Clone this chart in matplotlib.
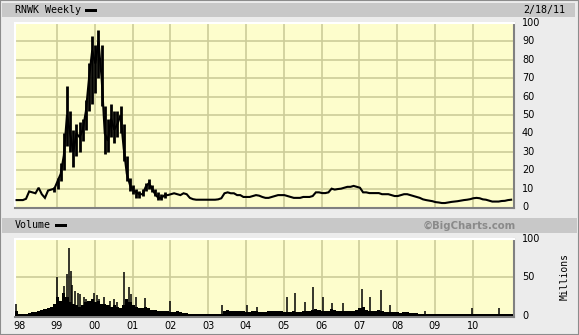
import matplotlib
matplotlib.use("Agg")
import matplotlib.pyplot as plt
from matplotlib.patches import Rectangle
import numpy as np

# ---------------- data ----------------
start_year = 1997.89          # first weekly bar (IPO, Nov 1997)
end_year = 2011.09            # 2/18/11
# monthly closing price from the first month on
price = [3.8, 3.8, 3.8, 4.5, 8.5, 8, 7.5, 10.5, 7, 5, 9, 9.5,
         10, 14, 18, 28, 50, 40, 30, 40, 38, 42, 52, 70,
         85, 78, 90, 70, 40, 36, 48, 42, 45, 50, 32, 18,
         12, 9, 8, 7, 7, 11, 13, 10, 7, 5, 5, 6.5,
         6.5, 7, 7.5, 7, 6.5, 7.5, 7, 5, 4.3, 4, 4, 4,
         4, 4, 4, 4, 4.2, 4.8, 7.5, 8, 7.5, 7.5, 6.5, 6.5,
         5.5, 5.5, 5.5, 6, 6.5, 6.2, 5.5, 5, 5, 5.5, 6, 6.5,
         6.5, 6.5, 6, 5.5, 5, 5, 5, 5.5, 5.5, 5.5, 6, 8,
         8, 7.6, 7.6, 8, 10, 9.5, 9.8, 10, 10.5, 11, 11, 11.5,
         11, 10.5, 8, 8, 7.6, 7.6, 7.6, 7.6, 7, 7, 7, 6.5,
         6, 6, 6.5, 7, 7, 6.5, 6, 5.5, 5, 4.2, 3.8, 3.5,
         3.2, 2.7, 2.5, 2.2, 2.2, 2.5, 2.8, 3, 3.2, 3.5, 3.8, 4,
         4.3, 4.8, 5, 4.8, 4.2, 4, 3.5, 3, 3, 3, 3.3, 3.4,
         3.8, 4]
# monthly high / low during the volatile period (months 12..47)
range_start_month = 12
price_high = [11, 16, 24, 40, 66, 52, 42, 45, 46, 48, 58, 78,
              93, 88, 96, 88, 55, 48, 56, 52, 52, 55, 45, 28,
              16, 12, 10, 9, 10, 13, 15, 12, 10, 8, 7, 8]
price_low = [8, 10, 14, 20, 33, 30, 22, 28, 30, 36, 42, 52,
             56, 62, 70, 55, 29, 30, 38, 35, 38, 40, 25, 14,
             9, 7, 5, 5, 6, 9, 10, 8, 6, 4, 4, 5]

# monthly base volume (millions)
volume = [6, 3, 3, 3, 4, 5, 5, 6, 8, 9, 10, 12,
          15, 25, 20, 30, 25, 18, 15, 14, 12, 14, 18, 20,
          22, 18, 20, 15, 16, 14, 12, 14, 12, 10, 14, 22,
          18, 14, 12, 10, 10, 12, 10, 8, 8, 7, 6, 6,
          6, 5, 5, 6, 5, 4, 4, 3, 3, 3, 3, 3,
          3, 2.5, 2.5, 2.5, 2.5, 3, 7, 8, 7, 6, 6, 6,
          6, 5, 5, 6, 6, 5, 5, 5, 6, 6, 6, 7,
          6, 5, 5, 5, 6, 5, 5, 6, 6, 7, 8, 9,
          8, 7, 7, 6, 9, 8, 7, 7, 6, 7, 6, 6,
          8, 10, 12, 8, 7, 6, 7, 8, 6, 5, 5, 5,
          5, 5, 4, 5, 5, 4, 4, 4, 3, 3, 2.5, 2,
          2, 2, 2, 2, 2.5, 2, 2, 2, 2, 2.5, 2, 2,
          2, 2, 2, 2, 2.5, 2, 2, 2, 2, 2, 2, 2.5,
          2, 2]
# notable weekly volume spikes (decimal year, millions)
spike_dates = [1997.91, 1999.01, 1999.19, 1999.27, 1999.32, 1999.36, 1999.41,
               1999.49, 1999.55, 1999.62, 1999.72, 1999.78, 1999.98, 2000.05,
               2000.12, 2000.24, 2000.40, 2000.50, 2000.60, 2000.77, 2000.91,
               2000.95, 2001.10, 2001.33, 2001.99, 2003.37, 2004.03, 2004.29,
               2005.09, 2005.30, 2005.56, 2005.77, 2006.04, 2006.28, 2006.57,
               2007.07, 2007.28, 2007.57, 2007.81, 2008.74, 2009.98, 2010.69]
spike_values = [15, 50, 39, 55, 88, 58, 40,
                32, 30, 28, 25, 22, 30, 27,
                22, 25, 20, 22, 18, 57, 38,
                28, 25, 23, 20, 14, 14, 12,
                25, 30, 18, 38, 25, 17, 17,
                35, 25, 34, 14, 6, 10, 10]

year_labels = ["98", "99", "00", "01", "02", "03", "04", "05", "06", "07", "08", "09", "10"]
price_ticks = [0, 10, 20, 30, 40, 50, 60, 70, 80, 90, 100]
volume_ticks = [0, 50, 100]

# ---------------- style ----------------
BG = "#ececec"
BAND = "#c8c8c8"
PLOT_BG = "#fdfdcc"
GRID = "#cccc99"
W, H = 579, 335

fig = plt.figure(figsize=(W / 100, H / 100), dpi=100, facecolor=BG)

def fx(px):
    return px / W

def fy(py):
    return 1 - py / H

fig.patches.append(Rectangle((0, 0), 1, 1, transform=fig.transFigure, fill=False,
                             edgecolor="#8c8c8c", linewidth=1.5, zorder=0))
fig.patches.append(Rectangle((fx(2), fy(17)), fx(573), 14 / H, transform=fig.transFigure,
                             facecolor=BAND, edgecolor="none", zorder=0))
fig.patches.append(Rectangle((fx(2), fy(233)), fx(575), 15 / H, transform=fig.transFigure,
                             facecolor=BAND, edgecolor="none", zorder=0))

mono = "DejaVu Sans Mono"
fig.text(fx(15), fy(10), "RNWK Weekly", family=mono, fontsize=7.2, va="center", ha="left")
fig.patches.append(Rectangle((fx(85), fy(11.5)), fx(12), 3 / H, transform=fig.transFigure,
                             facecolor="black", edgecolor="none"))
fig.text(fx(565), fy(10), "2/18/11", family=mono, fontsize=7.2, va="center", ha="right")

fig.text(fx(15), fy(225.5), "Volume", family=mono, fontsize=7.2, va="center", ha="left")
fig.patches.append(Rectangle((fx(55), fy(227)), fx(12), 3 / H, transform=fig.transFigure,
                             facecolor="black", edgecolor="none"))
fig.text(fx(516), fy(225.5), "\u00a9BigCharts.com", family="DejaVu Sans", fontweight="bold",
         fontsize=7.3, color="#8a8a8a", va="center", ha="right")
fig.text(fx(565), fy(277), "Millions", family=mono, fontsize=7, rotation=90,
         va="center", ha="center")

ax = fig.add_axes([fx(15), fy(208), fx(499), 185 / H])
axv = fig.add_axes([fx(15), fy(317), fx(499), 78 / H])

for a in (ax, axv):
    a.set_facecolor(PLOT_BG)
    a.set_xlim(start_year, end_year)
    for yr in range(1999, 2011):
        a.axvline(yr, color=GRID, lw=1.2, zorder=1)
    a.tick_params(left=False, bottom=False, right=False, top=False,
                  labelleft=False, labelbottom=False)
    a.spines["top"].set_color("#ffffff")
    a.spines["left"].set_color("#ffffff")
    a.spines["bottom"].set_color("#808080")
    a.spines["right"].set_color("#808080")
    for s in a.spines.values():
        s.set_linewidth(1.5)

ax.set_ylim(-0.5, 100)
for v in price_ticks[1:-1]:
    ax.axhline(v, color=GRID, lw=1.2, zorder=1)
months = start_year + (np.arange(len(price)) + 0.5) / 12
ax.plot(months, price, color="black", lw=1.5, zorder=3, solid_joinstyle="miter")
rm = start_year + (np.arange(len(price_high)) + range_start_month + 0.5) / 12
ax.vlines(rm, price_low, price_high, color="black", lw=2.0, zorder=3)

axv.set_ylim(-1.3, 100)
axv.axhline(50, color=GRID, lw=1.2, zorder=1)
vm = start_year + np.arange(len(volume)) / 12
axv.bar(vm, volume, width=1 / 12, align="edge", color="black", lw=0, zorder=3)
axv.vlines(spike_dates, 0, spike_values, color="black", lw=1.1, zorder=3)

for v in price_ticks:
    y = 207 - v * 1.84
    fig.text(fx(522), fy(y), str(v), fontsize=7, va="center", ha="left", family="DejaVu Sans")
for v in volume_ticks:
    y = 316 - v * 0.77
    fig.text(fx(522), fy(y), str(v), fontsize=7, va="center", ha="left", family="DejaVu Sans")

for i, lab in enumerate(year_labels):
    yr = 1998 + i
    xpos = 15 + (yr - start_year) * 499 / (end_year - start_year)
    fig.text(fx(xpos), fy(326), lab, fontsize=7, va="center", ha="center", family="DejaVu Sans")

fig.savefig("out.png", dpi=100, facecolor=BG)
